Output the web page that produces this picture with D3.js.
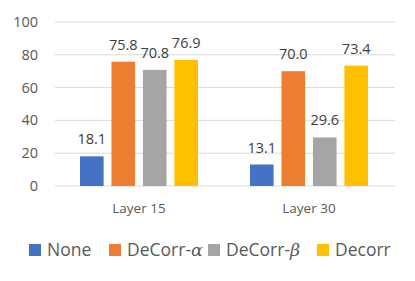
<!DOCTYPE html>
<html>
<head>
<meta charset="utf-8">
<script src="https://cdn.jsdelivr.net/npm/d3@7"></script>
<style>
  body { margin: 0; background: #fff; }
  text { font-family: "Open Sans", "Noto Sans", sans-serif; }
</style>
</head>
<body>
<svg id="chart" width="415" height="281"></svg>
<script>
const categories = ['Layer 15', 'Layer 30'];
const seriesNames = ['None', 'DeCorr-', 'DeCorr-', 'Decorr'];
const seriesGreek = ['', 'α', 'β', ''];
const seriesColors = ['#4472C4', '#ED7D31', '#A5A5A5', '#FFC000'];
const noneValues = [18.1, 13.1];
const alphaValues = [75.8, 70.0];
const betaValues = [70.8, 29.6];
const decorrValues = [76.9, 73.4];
const yTicks = [0, 20, 40, 60, 80, 100];

const series = [noneValues, alphaValues, betaValues, decorrValues];

const svg = d3.select('#chart');
const margin = { left: 55, right: 20, top: 22, bottom: 95 };
const width = 415, height = 281;

const x0 = d3.scaleBand().domain(categories).range([margin.left, width - margin.right]).paddingInner(0).paddingOuter(0);
const x1 = d3.scaleBand().domain(d3.range(series.length)).range([25, x0.bandwidth() - 27]).paddingInner(0.25);
const y = d3.scaleLinear().domain([0, 100]).range([height - margin.bottom, margin.top]);

// gridlines
svg.append('g').selectAll('line').data(yTicks).enter()
  .append('line')
  .attr('x1', margin.left)
  .attr('x2', width - margin.right)
  .attr('y1', d => y(d))
  .attr('y2', d => y(d))
  .attr('stroke', '#D9D9D9')
  .attr('stroke-width', 1);

// y tick labels
svg.append('g').selectAll('text').data(yTicks).enter()
  .append('text')
  .attr('x', 38)
  .attr('y', d => y(d))
  .attr('dy', '0.35em')
  .attr('text-anchor', 'end')
  .attr('fill', '#595959')
  .attr('font-size', 14.5)
  .text(d => d);

// bars
const groups = svg.append('g').selectAll('g').data(categories).enter()
  .append('g')
  .attr('transform', c => `translate(${x0(c)},0)`);

groups.each(function (c, ci) {
  const g = d3.select(this);
  series.forEach((vals, si) => {
    g.append('rect')
      .attr('x', x1(si))
      .attr('width', x1.bandwidth())
      .attr('y', y(vals[ci]))
      .attr('height', y(0) - y(vals[ci]))
      .attr('fill', seriesColors[si]);
    g.append('text')
      .attr('x', x1(si) + x1.bandwidth() / 2)
      .attr('y', y(vals[ci]) - 12)
      .attr('text-anchor', 'middle')
      .attr('fill', '#404040')
      .attr('font-size', 14.5)
      .text(vals[ci].toFixed(1));
  });
});

// category labels
svg.append('g').selectAll('text').data(categories).enter()
  .append('text')
  .attr('x', c => x0(c) + x1(0) + (x1(series.length - 1) + x1.bandwidth() - x1(0)) / 2)
  .attr('y', 213)
  .attr('text-anchor', 'middle')
  .attr('fill', '#595959')
  .attr('font-size', 13.5)
  .text(c => c);

// legend
const legendX = [29, 109, 208, 317];
const legend = svg.append('g').selectAll('g').data(seriesNames).enter()
  .append('g')
  .attr('transform', (d, i) => `translate(${legendX[i]},244)`);
legend.append('rect')
  .attr('width', 12)
  .attr('height', 12)
  .attr('fill', (d, i) => seriesColors[i]);
const lt = legend.append('text')
  .attr('x', 18)
  .attr('y', 12)
  .attr('fill', '#595959')
  .attr('font-size', 17.5);
lt.append('tspan').text(d => d);
lt.append('tspan')
  .attr('font-family', '"DejaVu Serif", serif')
  .attr('font-style', 'italic')
  .text((d, i) => seriesGreek[i]);
</script>
</body>
</html>
